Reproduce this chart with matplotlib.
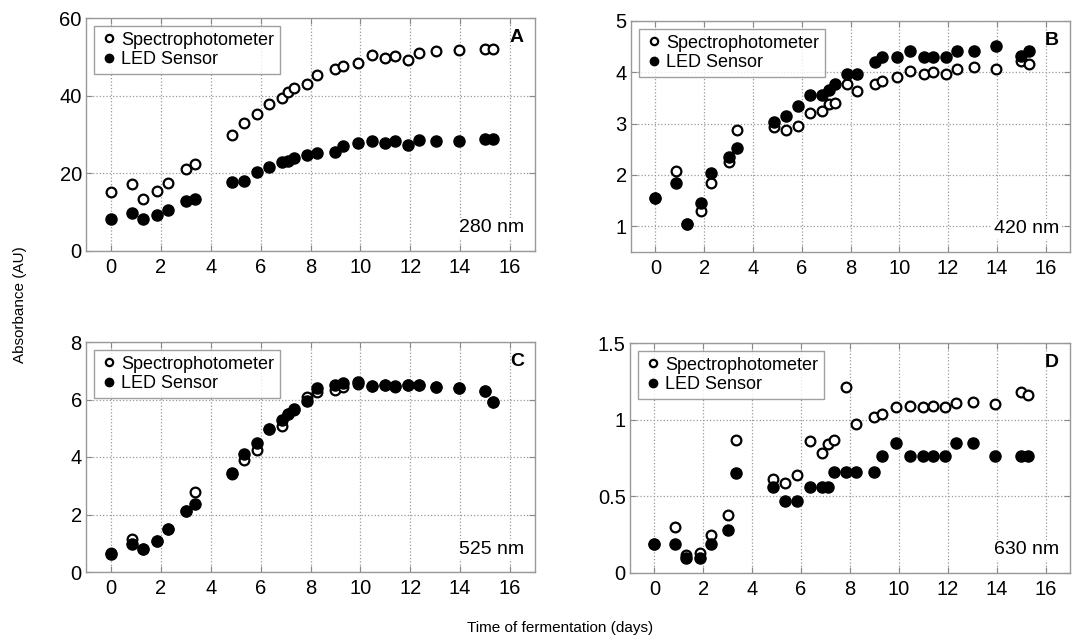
import matplotlib
matplotlib.use("Agg")
import matplotlib.pyplot as plt

plt.rcParams['font.family'] = ['Liberation Sans', 'DejaVu Sans']

days = [0, 0.85, 1.3, 1.85, 2.3, 3.0, 3.35, 4.85, 5.35, 5.85, 6.35, 6.85, 7.1, 7.35,
        7.85, 8.25, 9.0, 9.3, 9.9, 10.45, 11.0, 11.4, 11.9, 12.35, 13.05, 13.95, 15.0, 15.3]

spec_280 = [15.2, 17.3, 13.5, 15.4, 17.6, 21.0, 22.5, 30.0, 33.0, 35.3, 37.8, 39.4, 41.0, 41.9,
            43.1, 45.2, 46.8, 47.6, 48.5, 50.4, 49.6, 50.1, 49.2, 51.1, 51.6, 51.8, 52.1, 52.1]
led_280 = [8.3, 9.7, 8.2, 9.3, 10.5, 12.9, 13.5, 17.8, 18.1, 20.3, 21.7, 22.8, 23.3, 24.0,
           24.7, 25.2, 25.5, 27.0, 27.7, 28.4, 27.7, 28.2, 27.2, 28.6, 28.4, 28.4, 28.9, 28.9]

spec_420 = [1.55, 2.07, 1.04, 1.29, 1.85, 2.25, 2.88, 2.93, 2.87, 2.95, 3.21, 3.25, 3.39, 3.41,
            3.78, 3.64, 3.77, 3.84, 3.91, 4.02, 3.97, 4.01, 3.97, 4.07, 4.10, 4.07, 4.23, 4.17]
led_420 = [1.55, 1.84, 1.04, 1.46, 2.04, 2.35, 2.53, 3.04, 3.15, 3.35, 3.55, 3.55, 3.66, 3.77,
           3.97, 3.97, 4.20, 4.30, 4.30, 4.41, 4.30, 4.30, 4.30, 4.42, 4.41, 4.51, 4.32, 4.41]

spec_525 = [0.65, 1.15, 0.80, 1.09, 1.50, 2.12, 2.80, 3.42, 3.89, 4.24, 4.97, 5.07, 5.50, 5.65,
            6.10, 6.26, 6.34, 6.43, 6.55, 6.47, 6.50, 6.45, 6.50, 6.50, 6.45, 6.39, 6.30, 5.93]
led_525 = [0.62, 0.97, 0.80, 1.09, 1.50, 2.12, 2.37, 3.45, 4.12, 4.47, 4.99, 5.28, 5.51, 5.66,
           5.94, 6.40, 6.49, 6.58, 6.60, 6.47, 6.51, 6.47, 6.51, 6.50, 6.45, 6.39, 6.30, 5.91]

spec_630 = [0.19, 0.30, 0.12, 0.13, 0.25, 0.38, 0.865, 0.616, 0.59, 0.64, 0.863, 0.78, 0.84, 0.87,
            1.21, 0.97, 1.02, 1.04, 1.08, 1.09, 1.08, 1.09, 1.08, 1.11, 1.115, 1.10, 1.18, 1.16]
led_630 = [0.187, 0.187, 0.095, 0.095, 0.187, 0.28, 0.653, 0.56, 0.47, 0.47, 0.56, 0.56, 0.56, 0.66,
           0.66, 0.66, 0.66, 0.76, 0.85, 0.76, 0.76, 0.76, 0.76, 0.85, 0.85, 0.76, 0.76, 0.76]

panels = [
    ("A", "280 nm", spec_280, led_280, (0, 60), [0, 20, 40, 60], ["0", "20", "40", "60"]),
    ("B", "420 nm", spec_420, led_420, (0.5, 5), [1, 2, 3, 4, 5], ["1", "2", "3", "4", "5"]),
    ("C", "525 nm", spec_525, led_525, (0, 8), [0, 2, 4, 6, 8], ["0", "2", "4", "6", "8"]),
    ("D", "630 nm", spec_630, led_630, (0, 1.5), [0, 0.5, 1, 1.5], ["0", "0.5", "1", "1.5"]),
]
xticks = [0, 2, 4, 6, 8, 10, 12, 14, 16]

fig = plt.figure(figsize=(10.75, 6.42), dpi=100)
W, H = 1075, 642
boxes = [(86, 18, 535, 251), (631, 21, 1070, 252), (86, 342, 535, 572), (630, 343, 1070, 573)]

for (lab, wl, sp, led, ylim, yt, ytl), (l, t, r, b) in zip(panels, boxes):
    ax = fig.add_axes([l / W, 1 - b / H, (r - l) / W, (b - t) / H])
    ax.plot(days, sp, linestyle='none', marker='o', markersize=7, markerfacecolor='white',
            markeredgecolor='black', markeredgewidth=1.6, label='Spectrophotometer', zorder=3)
    ax.plot(days, led, linestyle='none', marker='o', markersize=8, markerfacecolor='black',
            markeredgecolor='black', label='LED Sensor', zorder=4)
    ax.set_xlim(-1, 17)
    ax.set_ylim(*ylim)
    ax.set_xticks(xticks)
    ax.set_xticklabels([str(x) for x in xticks])
    ax.set_yticks(yt)
    ax.set_yticklabels(ytl)
    ax.grid(True, linestyle=':', color='#999999', linewidth=0.9)
    ax.set_axisbelow(True)
    ax.tick_params(direction='in', labelsize=14.5, length=4, color='#888888', top=True, right=True, pad=3)
    ax.tick_params(axis='x', pad=5)
    for s in ax.spines.values():
        s.set_color('#999999')
        s.set_linewidth(1.0)
    leg = ax.legend(loc='upper left', fontsize=13, frameon=True, fancybox=False, handletextpad=0.1,
                    borderpad=0.3, labelspacing=0.15, handlelength=1.1, borderaxespad=0.45,
                    markerscale=0.75)
    leg.get_frame().set_edgecolor('#888888')
    leg.get_frame().set_linewidth(1.0)
    ax.text(0.975, 0.915, lab, transform=ax.transAxes, ha='right', va='center',
            fontsize=14, fontweight='bold')
    ax.text(0.975, 0.1, wl, transform=ax.transAxes, ha='right', va='center', fontsize=14,
            bbox=dict(facecolor='white', edgecolor='none', pad=1))

fig.text(20 / W, 1 - 305 / H, 'Absorbance (AU)', rotation=90, ha='center', va='center', fontsize=11)
fig.text(560 / W, 1 - 628 / H, 'Time of fermentation (days)', ha='center', va='center', fontsize=11)

fig.savefig('out.png', dpi=100)
